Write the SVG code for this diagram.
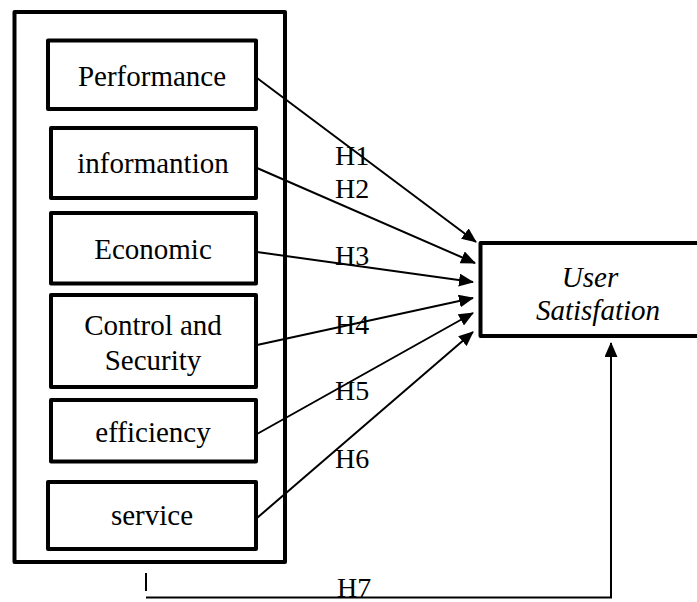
<svg xmlns="http://www.w3.org/2000/svg" width="697" height="602" viewBox="0 0 697 602">
<style>
.box{fill:#fff;stroke:#000;stroke-width:4;stroke-linejoin:round}
text{font-family:'Liberation Serif','DejaVu Serif',serif;fill:#000}
.t{font-size:29px;text-anchor:middle}
.ti{font-size:29px;font-style:italic;text-anchor:middle}
.lbl{font-size:28px}
.c{fill:none;stroke:#000;stroke-width:2}
</style>
<defs>
<marker id="ah" viewBox="0 0 15 13" refX="14" refY="6.5" markerWidth="15" markerHeight="13" markerUnits="userSpaceOnUse" orient="auto">
<path d="M0,0 L15,6.5 L0,13 Z" fill="#000"/>
</marker>
</defs>
<rect width="697" height="602" fill="#fff"/>
<g id="outer"><rect class="box" x="14.5" y="12" width="270.5" height="550"/></g>
<g id="performance"><rect class="box" x="48" y="40.5" width="208" height="68.5"/><text class="t" x="152" y="86" font-family="Liberation Serif, serif">Performance</text></g>
<g id="information"><rect class="box" x="51" y="128" width="205" height="70"/><text class="t" x="153" y="173" font-family="Liberation Serif, serif">informantion</text></g>
<g id="economic"><rect class="box" x="51" y="213" width="205" height="70.5"/><text class="t" x="153" y="259" font-family="Liberation Serif, serif">Economic</text></g>
<g id="control"><rect class="box" x="51" y="295" width="205" height="92"/><text class="t" x="153" y="335" font-family="Liberation Serif, serif">Control and</text><text class="t" x="153" y="370" font-family="Liberation Serif, serif">Security</text></g>
<g id="efficiency"><rect class="box" x="51" y="400" width="205" height="61.5"/><text class="t" x="153" y="442" font-family="Liberation Serif, serif">efficiency</text></g>
<g id="service"><rect class="box" x="48" y="482" width="208" height="67"/><text class="t" x="152" y="525" font-family="Liberation Serif, serif">service</text></g>
<g id="user-satisfaction"><rect class="box" x="480.5" y="243" width="230" height="93"/><text class="ti" x="590" y="287" font-family="Liberation Serif, serif">User</text><text class="ti" x="598" y="320" font-family="Liberation Serif, serif">Satisfation</text></g>
<g id="connectors">
<line class="c" x1="257" y1="78" x2="476" y2="242" marker-end="url(#ah)"/>
<line class="c" x1="257" y1="168" x2="475" y2="263" marker-end="url(#ah)"/>
<line class="c" x1="257" y1="252" x2="473" y2="282" marker-end="url(#ah)"/>
<line class="c" x1="257" y1="345" x2="473" y2="298" marker-end="url(#ah)"/>
<line class="c" x1="257" y1="434" x2="473" y2="313" marker-end="url(#ah)"/>
<line class="c" x1="257" y1="518" x2="473" y2="332" marker-end="url(#ah)"/>
<line class="c" x1="146" y1="573" x2="146" y2="591"/>
<polyline class="c" points="146,597.5 611,597.5 611,343" marker-end="url(#ah)"/>
</g>
<g id="labels">
<text class="lbl" x="335" y="165" font-family="Liberation Serif, serif">H1</text>
<text class="lbl" x="335" y="198" font-family="Liberation Serif, serif">H2</text>
<text class="lbl" x="335" y="265" font-family="Liberation Serif, serif">H3</text>
<text class="lbl" x="335" y="334" font-family="Liberation Serif, serif">H4</text>
<text class="lbl" x="335" y="400" font-family="Liberation Serif, serif">H5</text>
<text class="lbl" x="335" y="468" font-family="Liberation Serif, serif">H6</text>
<text class="lbl" x="337" y="597" font-family="Liberation Serif, serif">H7</text>
</g>
</svg>
